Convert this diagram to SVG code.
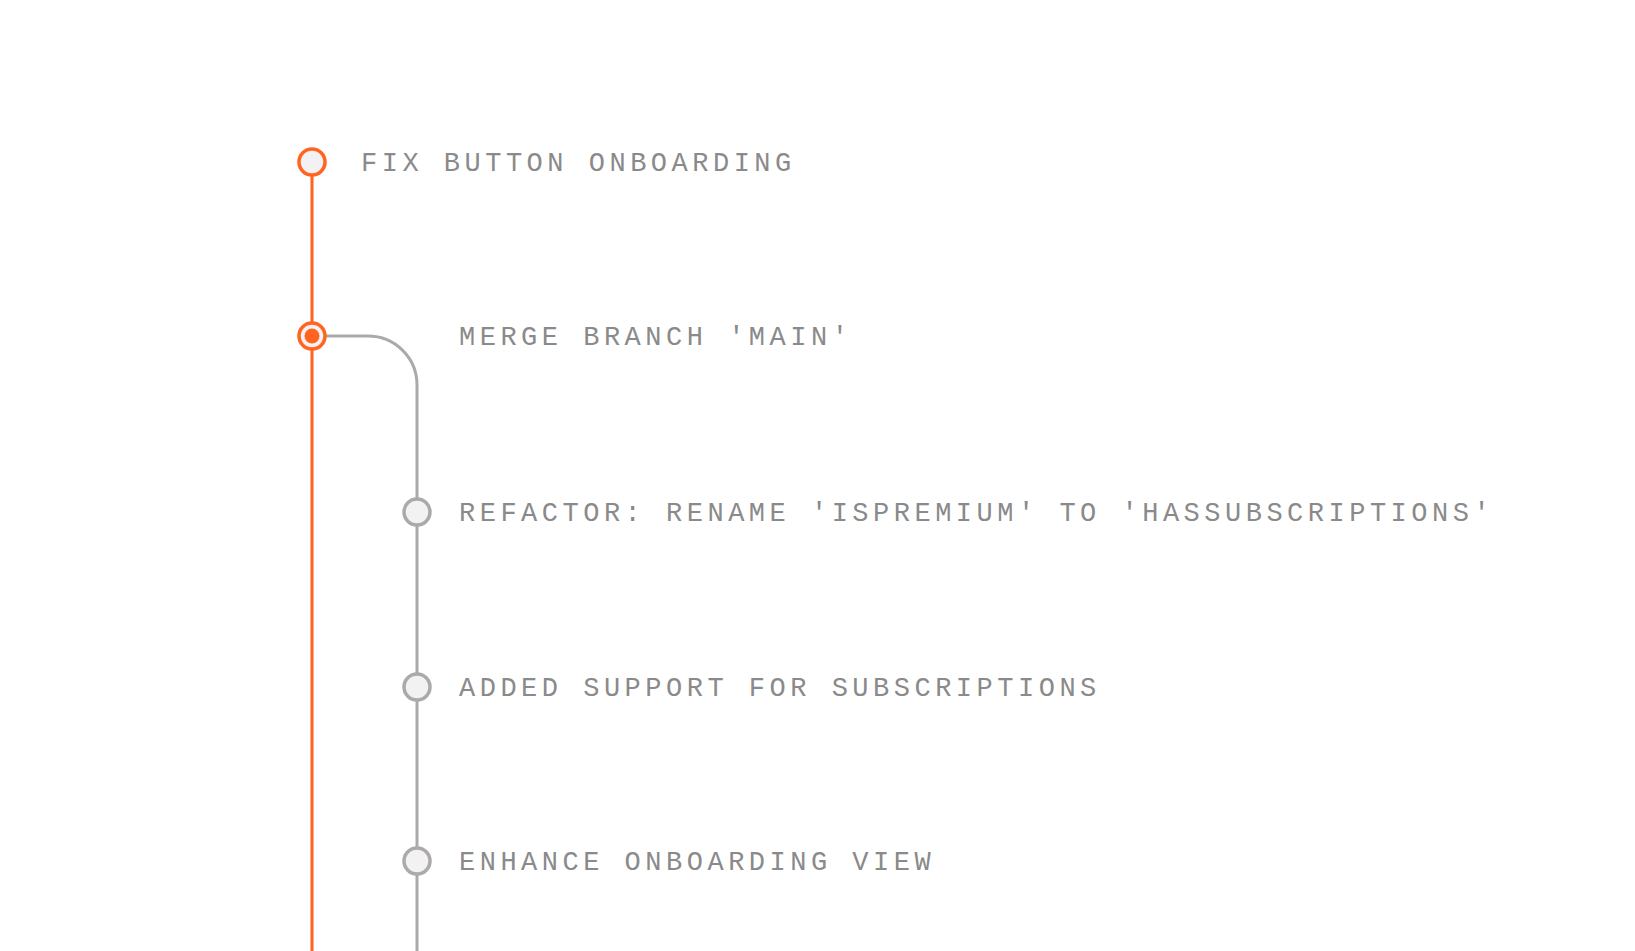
<svg xmlns="http://www.w3.org/2000/svg" width="1635" height="951" viewBox="0 0 1635 951">
<style>
text{font-family:"Liberation Mono","DejaVu Sans Mono",monospace;font-size:27px;fill:#8a8a8a;letter-spacing:4.5px}
.main{stroke:#ff6420;stroke-width:3;fill:none}
.br{stroke:#aaaaaa;stroke-width:3;fill:none}
.n{fill:#f3f1f2;stroke-width:3.5}
</style>
<rect width="1635" height="951" fill="#ffffff"/>
<g id="connectors">
<path class="main" d="M312 162 V951"/>
<path class="br" d="M312 336 H368 A49 49 0 0 1 417 385 V951"/>
</g>
<g id="n1"><circle class="n" cx="312" cy="162" r="13" stroke="#ff6420"/><text x="361" y="171">FIX BUTTON ONBOARDING</text></g>
<g id="n2"><circle class="n" cx="312" cy="336" r="13" stroke="#ff6420"/><circle cx="312" cy="336" r="7.5" fill="#ff6420"/><text x="459" y="345">MERGE BRANCH 'MAIN'</text></g>
<g id="n3"><circle class="n" cx="417" cy="512" r="13" stroke="#aaaaaa"/><text x="459" y="521">REFACTOR: RENAME 'ISPREMIUM' TO 'HASSUBSCRIPTIONS'</text></g>
<g id="n4"><circle class="n" cx="417" cy="687" r="13" stroke="#aaaaaa"/><text x="459" y="696">ADDED SUPPORT FOR SUBSCRIPTIONS</text></g>
<g id="n5"><circle class="n" cx="417" cy="861" r="13" stroke="#aaaaaa"/><text x="459" y="870">ENHANCE ONBOARDING VIEW</text></g>
</svg>
